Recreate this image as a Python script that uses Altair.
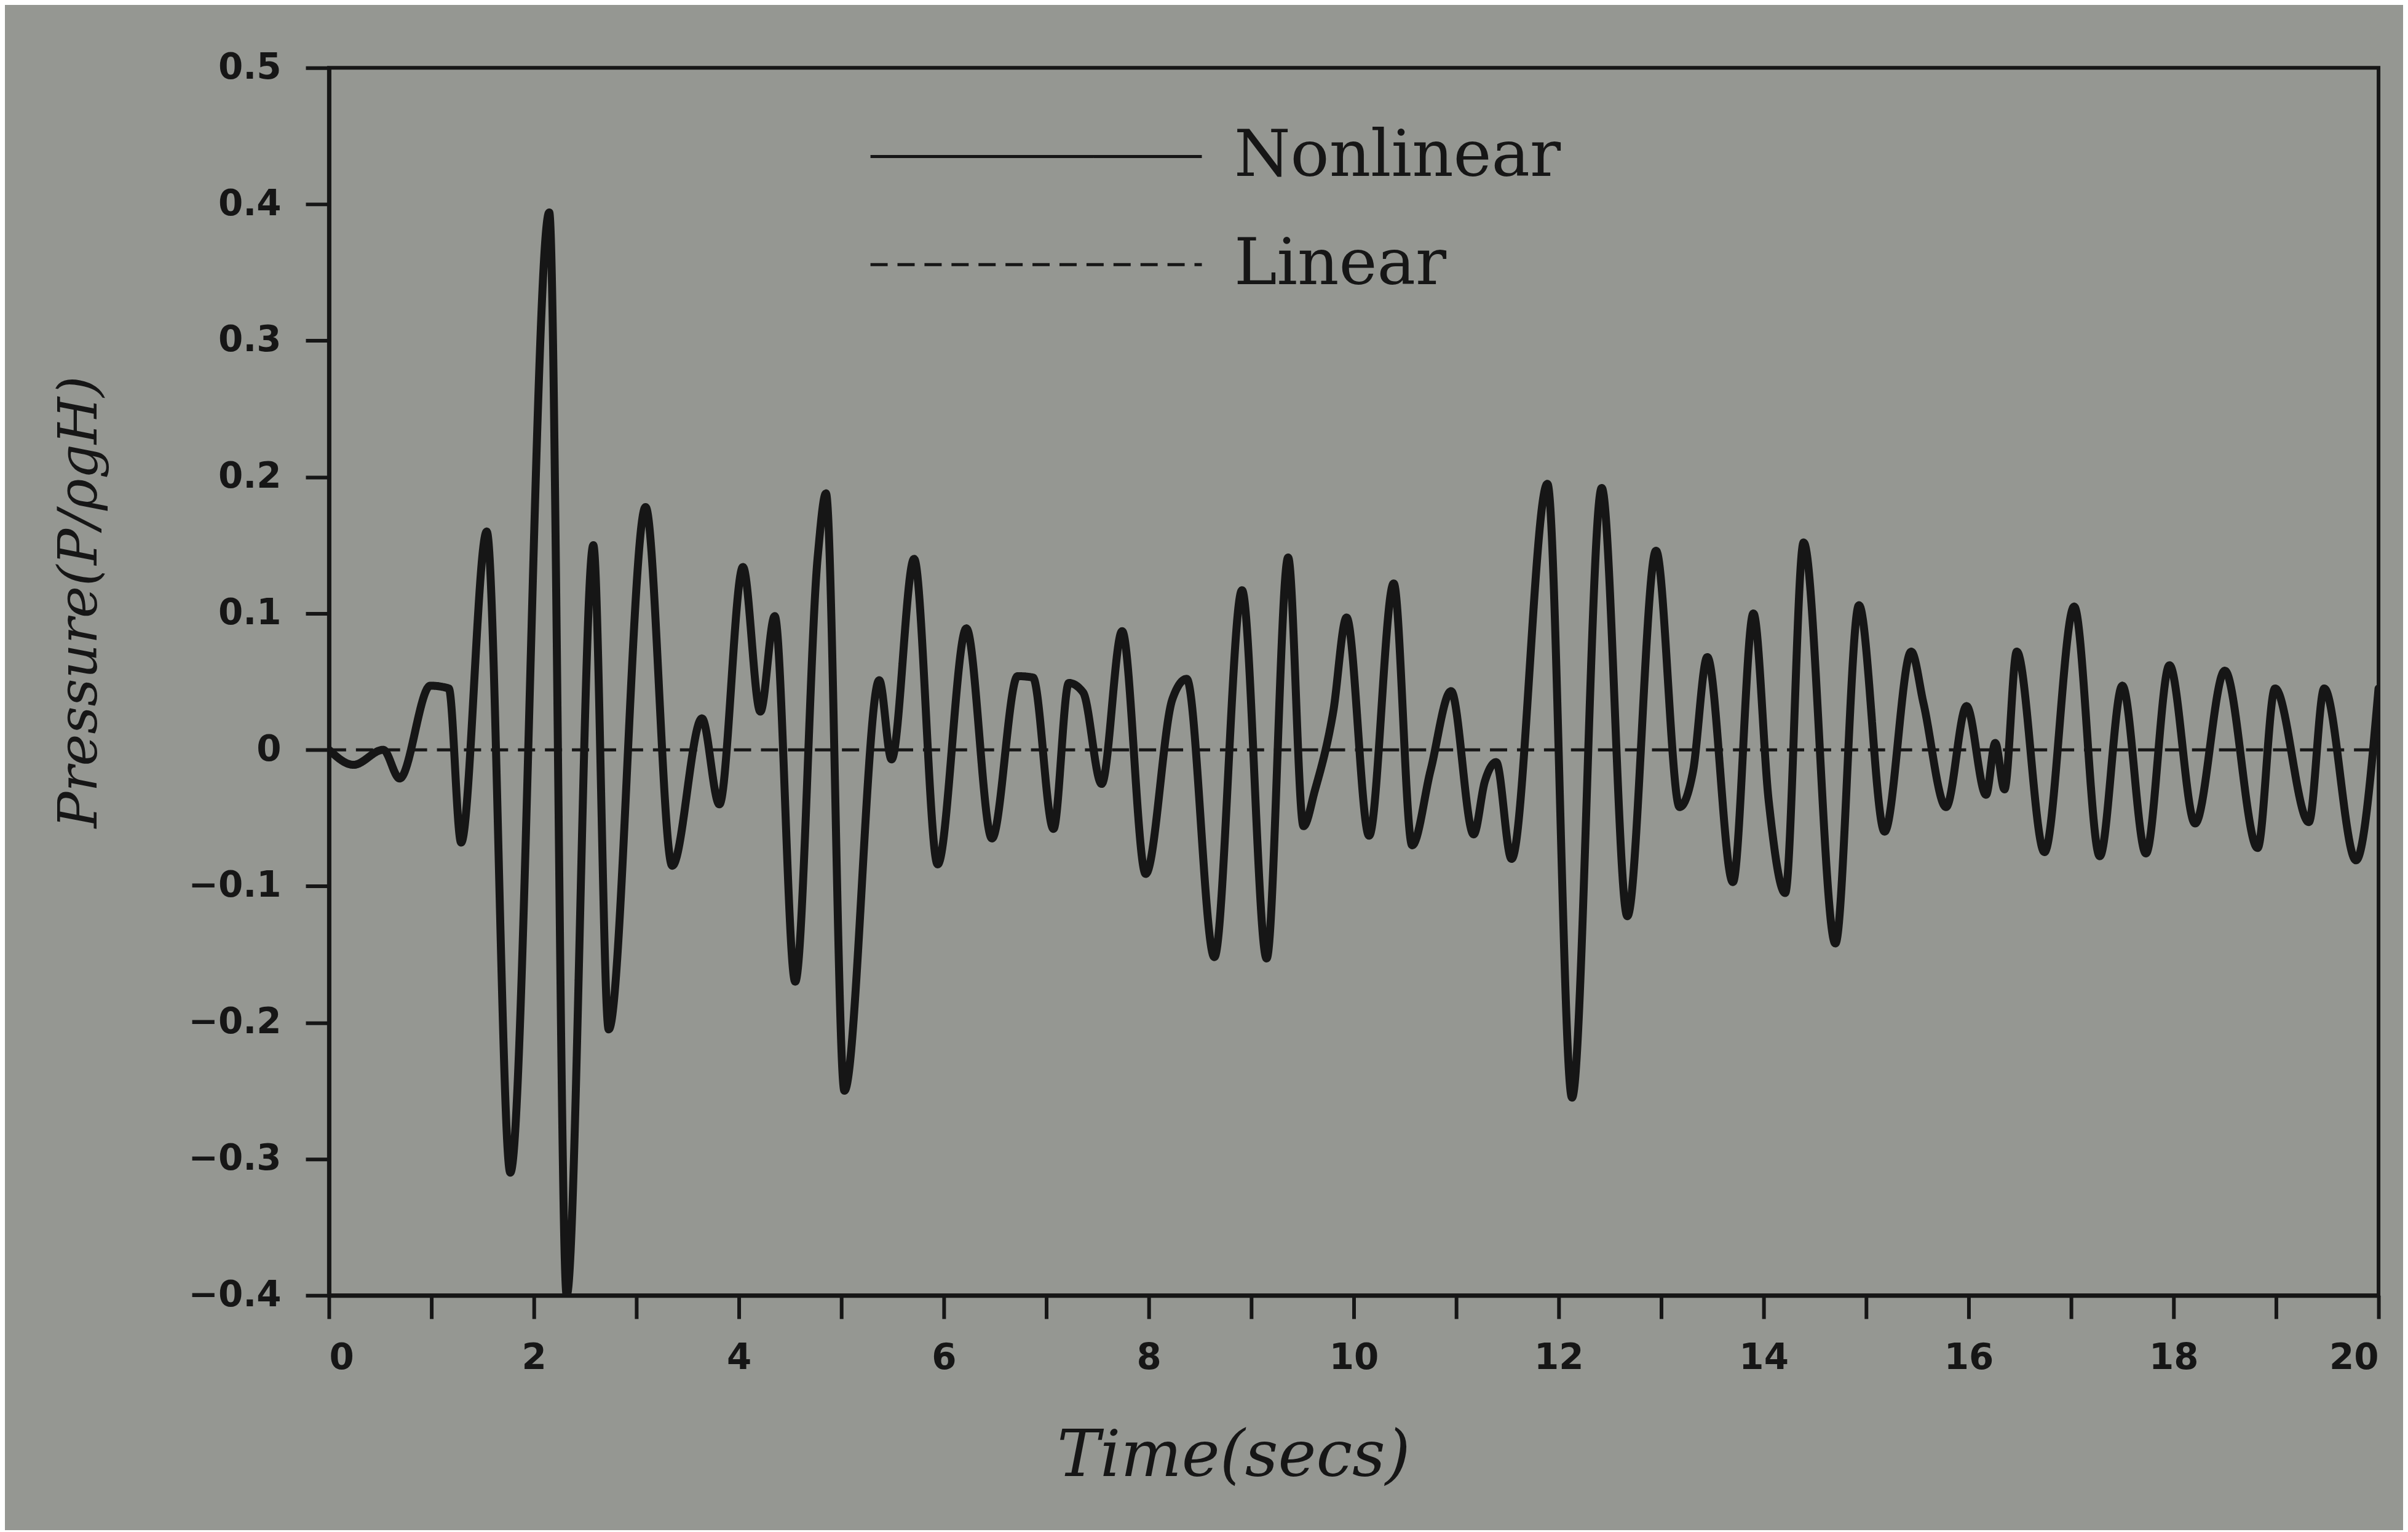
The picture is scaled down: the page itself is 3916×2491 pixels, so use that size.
import altair as alt
import pandas as pd

# ---- data ----
nonlinear_time = [0.00, 0.24, 0.53, 0.69, 0.99, 1.17, 1.29, 1.54, 1.77, 2.15, 2.32, 2.58, 2.73,
                  3.09, 3.35, 3.64, 3.81, 4.04, 4.21, 4.35, 4.55, 4.77, 4.85, 5.03, 5.37, 5.49,
                  5.71, 5.94, 6.22, 6.47, 6.72, 6.87, 7.07, 7.22, 7.36, 7.54, 7.74, 7.97, 8.23,
                  8.37, 8.64, 8.91, 9.15, 9.36, 9.51, 9.62, 9.80, 9.93, 10.15, 10.39, 10.57,
                  10.75, 10.95, 11.17, 11.28, 11.39, 11.54, 11.89, 12.13, 12.42, 12.67, 12.95,
                  13.18, 13.31, 13.45, 13.70, 13.90, 14.05, 14.21, 14.39, 14.70, 14.93, 15.18,
                  15.44, 15.56, 15.78, 15.98, 16.17, 16.26, 16.35, 16.47, 16.74, 17.03, 17.28,
                  17.50, 17.73, 17.96, 18.21, 18.50, 18.82, 18.99, 19.32, 19.47, 19.78, 20.00]
nonlinear_pressure = [0.000, -0.011, 0.000, -0.021, 0.047, 0.045, -0.068, 0.160, -0.310, 0.394,
                      -0.400, 0.150, -0.205, 0.178, -0.085, 0.023, -0.040, 0.134, 0.028, 0.098,
                      -0.170, 0.142, 0.188, -0.250, 0.051, -0.007, 0.140, -0.084, 0.089, -0.065,
                      0.054, 0.053, -0.058, 0.049, 0.042, -0.025, 0.087, -0.091, 0.037, 0.052,
                      -0.152, 0.117, -0.153, 0.141, -0.056, -0.030, 0.028, 0.097, -0.063, 0.122,
                      -0.070, -0.015, 0.043, -0.062, -0.023, -0.009, -0.080, 0.195, -0.255, 0.192,
                      -0.122, 0.146, -0.042, -0.016, 0.068, -0.097, 0.100, -0.038, -0.105, 0.152,
                      -0.142, 0.106, -0.060, 0.072, 0.034, -0.042, 0.032, -0.033, 0.005, -0.029,
                      0.072, -0.075, 0.105, -0.078, 0.047, -0.076, 0.062, -0.054, 0.058, -0.072,
                      0.045, -0.053, 0.045, -0.081, 0.045]

linear_time = [0, 5, 10, 15, 20]
linear_pressure = [0.0, 0.0, 0.0, 0.0, 0.0]

series_names = ["Nonlinear", "Linear"]
x_tick_values = list(range(0, 21))
y_tick_values = [-0.4, -0.3, -0.2, -0.1, 0.0, 0.1, 0.2, 0.3, 0.4, 0.5]

df_nl = pd.DataFrame({"time": nonlinear_time, "pressure": nonlinear_pressure,
                      "series": series_names[0]})
df_l = pd.DataFrame({"time": linear_time, "pressure": linear_pressure,
                     "series": series_names[1]})

INK = "#161616"
dash_scale = alt.Scale(domain=series_names, range=[[1, 0], [28, 16]])

x_enc = alt.X("time:Q",
              scale=alt.Scale(domain=[0, 20], nice=False),
              axis=alt.Axis(values=x_tick_values,
                            labelExpr="datum.value % 2 == 0 ? datum.label : ''",
                            title="Time(secs)", tickSize=38, labelPadding=36,
                            titleX=1474, titleY=262, titleAlign="center",
                            titleBaseline="middle", titleFontSize=105))
y_enc = alt.Y("pressure:Q",
              scale=alt.Scale(domain=[-0.4, 0.5], nice=False),
              axis=alt.Axis(values=y_tick_values, format=".1~f",
                            title="Pressure(P/ρgH)", tickSize=38, labelPadding=40,
                            titleX=-405, titleY=870, titleAlign="center",
                            titleBaseline="middle", titleFontSize=88))
dash_enc = alt.StrokeDash("series:N", scale=dash_scale,
                          legend=alt.Legend(orient="none", legendX=1060, legendY=52,
                                            title=None, symbolType="M-3,0H3",
                                            symbolSize=180 * 180, symbolStrokeWidth=5,
                                            symbolStrokeColor=INK,
                                            symbolFillColor="transparent",
                                            labelFont="DejaVu Serif",
                                            labelFontSize=105, labelColor=INK,
                                            labelLimit=0, labelOffset=230, rowPadding=30))

nl_line = alt.Chart(df_nl).mark_line(color=INK, strokeWidth=13, interpolate="monotone",
                                     clip=True, strokeJoin="round", strokeCap="round").encode(
    x=x_enc, y=y_enc, strokeDash=dash_enc)
lin_line = alt.Chart(df_l).mark_line(color=INK, strokeWidth=5, clip=True).encode(
    x=x_enc, y=y_enc, strokeDash=dash_enc)

chart = alt.layer(lin_line, nl_line).properties(
    width=3340, height=2000,
    autosize=alt.AutoSizeParams(type="none"),
    padding={"left": 528, "top": 100, "right": 40, "bottom": 380},
    background="#959792",
).configure_view(stroke=INK, strokeWidth=6).configure_axis(
    grid=False, domainColor=INK, domainWidth=7, tickColor=INK, tickWidth=6,
    labelFont="DejaVu Sans", labelFontWeight="bold", labelFontSize=58, labelColor=INK,
    titleFont="DejaVu Serif", titleFontStyle="italic", titleFontWeight="normal",
    titleColor=INK,
)

chart.save("out.html", embed_options={"renderer": "svg", "actions": False})
